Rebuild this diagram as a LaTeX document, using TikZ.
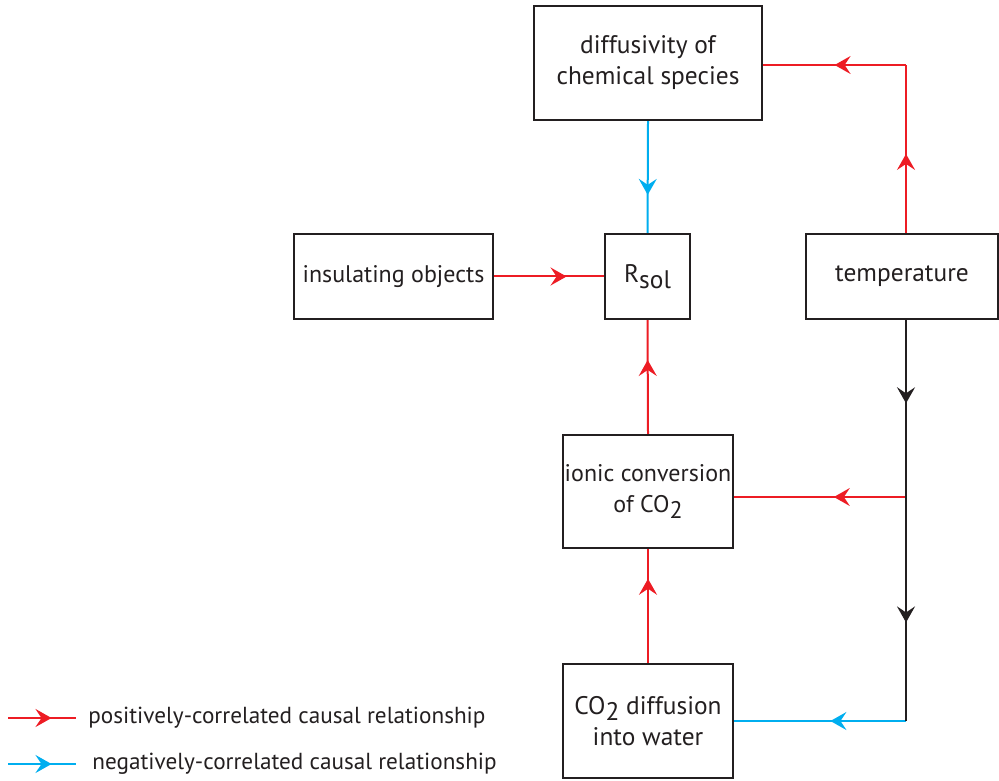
\documentclass[tikz,border=0pt]{standalone}
\usepackage{fontspec}
\setmainfont{PT Sans}
\usetikzlibrary{arrows.meta, decorations.markings, positioning, calc}

\definecolor{posred}{HTML}{ED1C24}
\definecolor{negblue}{HTML}{00AEEF}
\definecolor{boxgray}{HTML}{231F20}

\tikzset{
  factor/.style={draw=boxgray, line width=1.2pt, align=center, font=\fontsize{12.7}{15.5}\selectfont,
    inner sep=0pt, text=boxgray},
  narrow/.style={font=\fontsize{12}{15.5}\selectfont},
  link/.style={line width=1pt},
  tipat/.style={postaction={decorate}, decoration={markings,
    mark=at position #1 with {\arrow{Stealth[length=8pt, width=9pt, inset=3pt]}}}},
  legendtext/.style={anchor=west, inner sep=0pt, font=\fontsize{11.6}{14}\selectfont, text=boxgray}
}

\begin{document}
\begin{tikzpicture}[x=0.5pt, y=-0.5pt]
\useasboundingbox (0,0) rectangle (999,780);

% Boxes
\node[factor, minimum width=114pt, minimum height=57pt] (diff) at (648,63)
  {diffusivity of\\chemical species};
\node[factor, minimum width=42.5pt, minimum height=42.5pt] (rsol) at (647.5,276.5)
  {R\raisebox{-0.45ex}{sol}};
\node[factor, narrow, minimum width=99.5pt, minimum height=42.5pt] (insul) at (393.5,276.5)
  {insulating objects};
\node[factor, minimum width=96pt, minimum height=42.5pt] (temp) at (902,276.5)
  {temperature};
\node[factor, narrow, minimum width=85pt, minimum height=56.5pt] (ionic) at (648,491.5)
  {ionic conversion\\of CO\raisebox{-0.45ex}{2}};
\node[factor, minimum width=85pt, minimum height=57pt] (codiff) at (648,721)
  {CO\raisebox{-0.45ex}{2} diffusion\\into water};

% Junctions on the temperature line
\coordinate (top) at (906,65);
\coordinate (jion) at (906,497);
\coordinate (jco) at (906,721);

% Red links
\draw[link, posred, tipat=0.47] ($(temp.north)+(4,0)$) -- (top);
\draw[link, posred, tipat=0.5] (top) -- (top -| diff.east);
\draw[link, posred, tipat=0.66] (insul.east) -- (rsol.west);
\draw[link, posred, tipat=0.65] (ionic.north) -- (rsol.south);
\draw[link, posred, tipat=0.74] (codiff.north) -- (ionic.south);
\draw[link, posred, tipat=0.42] (jion) -- (jion -| ionic.east);

% Blue links
\draw[link, negblue, tipat=0.66] (diff.south) -- (rsol.north);
\draw[link, negblue, tipat=0.44] (jco) -- (jco -| codiff.east);

% Black trunk
\draw[link, boxgray, tipat=0.47] ($(temp.south)+(4,0)$) -- (jion);
\draw[link, boxgray, tipat=0.56] (jion) -- (jco);

% Legend
\coordinate (posa) at (8,718);
\coordinate (posb) at (76,718);
\coordinate (nega) at (8,764);
\coordinate (negb) at (76,764);
\draw[link, posred, tipat=0.64] (posa) -- (posb);
\draw[link, negblue, tipat=0.64] (nega) -- (negb);
\node[legendtext] (poslabel) at (88,718) {positively-correlated causal relationship};
\node[legendtext] (neglabel) at (92,764) {negatively-correlated causal relationship};
\end{tikzpicture}
\end{document}
